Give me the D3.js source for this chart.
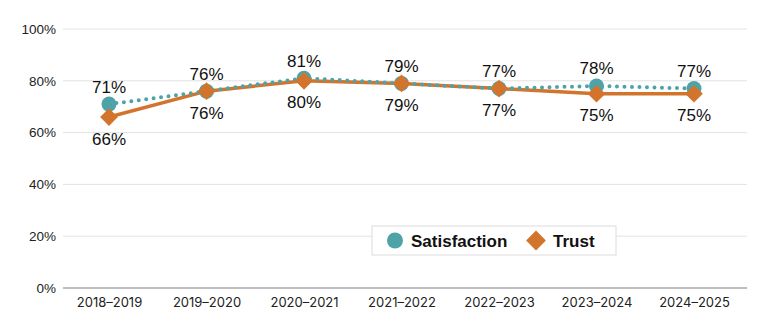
<!DOCTYPE html>
<html>
<head>
<meta charset="utf-8">
<script src="https://cdn.jsdelivr.net/npm/d3@7"></script>
<style>
  html, body { margin: 0; padding: 0; background: #fff; }
  svg { display: block; font-family: "Liberation Sans", Arial, sans-serif; }
</style>
</head>
<body>
<svg id="chart" width="768" height="332"></svg>
<script>
// Survey years and results (percent)
const years = ["2018–2019", "2019–2020", "2020–2021", "2021–2022", "2022–2023", "2023–2024", "2024–2025"];
const satisfaction = [71, 76, 81, 79, 77, 78, 77];
const trust = [66, 76, 80, 79, 77, 75, 75];
const yTicks = [0, 20, 40, 60, 80, 100];

const teal = "#4ea3a8";
const orange = "#d2742c";

const svg = d3.select("#chart");
const x = d3.scalePoint().domain(years).range([109, 694]);
const y = d3.scaleLinear().domain([0, 100]).range([288, 29]);

// Horizontal gridlines
svg.append("g").selectAll("line")
  .data(yTicks.filter(d => d > 0))
  .join("line")
  .attr("x1", 63).attr("x2", 747)
  .attr("y1", d => y(d)).attr("y2", d => y(d))
  .attr("stroke", "#e2e2e2").attr("stroke-width", 1);

// Baseline
svg.append("line")
  .attr("x1", 63).attr("x2", 747)
  .attr("y1", y(0)).attr("y2", y(0))
  .attr("stroke", "#bdbdc2").attr("stroke-width", 2);

// Y axis labels
const yAxis = d3.axisLeft(y).tickValues(yTicks).tickFormat(d => d + "%").tickSize(0).tickPadding(0);
const yg = svg.append("g").attr("transform", "translate(56,0)").call(yAxis);
yg.select(".domain").remove();
yg.selectAll("text").attr("font-size", 13.5).attr("fill", "#222").attr("font-family", "'Liberation Sans', Arial, sans-serif");

// X axis labels
const xAxis = d3.axisBottom(x).tickSize(0).tickPadding(0);
const xg = svg.append("g").attr("transform", "translate(0,298)").call(xAxis);
xg.select(".domain").remove();
xg.selectAll("text").attr("font-size", 13).attr("fill", "#222").attr("font-family", "Inter, sans-serif");

// Trust line (solid)
const line = d3.line().x((d, i) => x(years[i])).y(d => y(d));
svg.append("path").datum(trust)
  .attr("d", line).attr("fill", "none")
  .attr("stroke", orange).attr("stroke-width", 3.5);

// Satisfaction line (dotted), drawn above
svg.append("path").datum(satisfaction)
  .attr("d", line).attr("fill", "none")
  .attr("stroke", teal).attr("stroke-width", 4)
  .attr("stroke-linecap", "round").attr("stroke-dasharray", "0 7.5");

// Satisfaction markers
svg.append("g").selectAll("circle")
  .data(satisfaction).join("circle")
  .attr("cx", (d, i) => x(years[i])).attr("cy", d => y(d))
  .attr("r", 7.5).attr("fill", teal);

// Trust markers
const diamond = d3.symbol().type(d3.symbolDiamond2).size(200);
svg.append("g").selectAll("path")
  .data(trust).join("path")
  .attr("d", diamond)
  .attr("transform", (d, i) => `translate(${x(years[i])},${y(d)})`)
  .attr("fill", orange);

// Value labels
svg.append("g").selectAll("text")
  .data(satisfaction).join("text")
  .attr("x", (d, i) => x(years[i])).attr("y", d => y(d) - 17)
  .attr("text-anchor", "middle").attr("dominant-baseline", "central")
  .attr("font-size", 17).attr("fill", "#111")
  .text(d => d + "%");

svg.append("g").selectAll("text")
  .data(trust).join("text")
  .attr("x", (d, i) => x(years[i])).attr("y", d => y(d) + 22)
  .attr("text-anchor", "middle").attr("dominant-baseline", "central")
  .attr("font-size", 17).attr("fill", "#111")
  .text(d => d + "%");

// Legend
const lg = svg.append("g").attr("transform", "translate(372,226)");
lg.append("rect").attr("width", 244).attr("height", 29)
  .attr("fill", "#fff").attr("stroke", "#dcdcdc").attr("stroke-width", 1);
lg.append("circle").attr("cx", 23).attr("cy", 14.5).attr("r", 8).attr("fill", teal);
lg.append("text").attr("x", 39).attr("y", 15).attr("dominant-baseline", "central")
  .attr("font-size", 17).attr("font-weight", 700).attr("fill", "#111").text("Satisfaction");
lg.append("path").attr("d", d3.symbol().type(d3.symbolDiamond2).size(250))
  .attr("transform", "translate(164,14.5)").attr("fill", orange);
lg.append("text").attr("x", 181).attr("y", 15).attr("dominant-baseline", "central")
  .attr("font-size", 17).attr("font-weight", 700).attr("fill", "#111").text("Trust");
</script>
</body>
</html>
